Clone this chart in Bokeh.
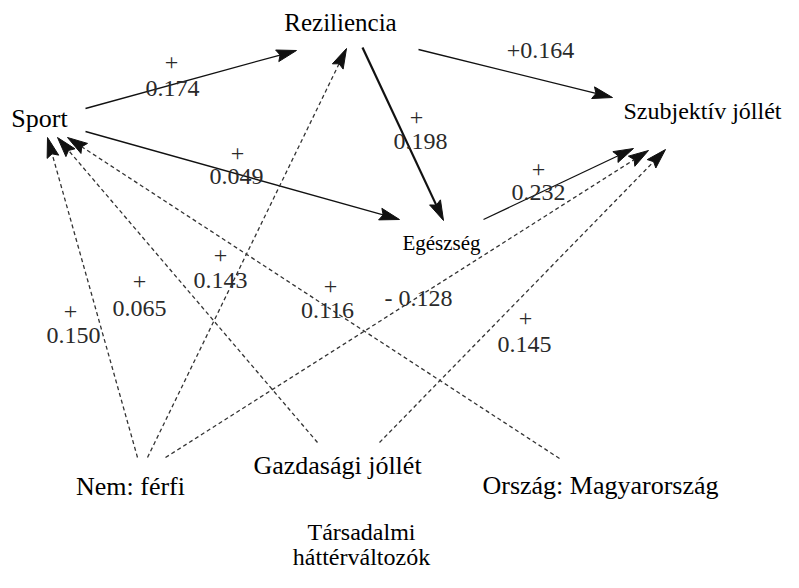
import math
from bokeh.plotting import figure
from bokeh.models import Range1d
from bokeh.core.properties import value
from bokeh.embed import file_html
from bokeh.resources import INLINE

# ---------------- data ----------------
node_names = ["Sport", "Reziliencia", "Egészség", "Szubjektív jóllét",
              "Nem: férfi", "Gazdasági jóllét", "Ország: Magyarország"]
edge_source = ["Sport", "Sport", "Reziliencia", "Reziliencia", "Egészség",
               "Nem: férfi", "Nem: férfi", "Nem: férfi",
               "Gazdasági jóllét", "Gazdasági jóllét", "Ország: Magyarország"]
edge_target = ["Reziliencia", "Egészség", "Egészség", "Szubjektív jóllét", "Szubjektív jóllét",
               "Sport", "Reziliencia", "Szubjektív jóllét",
               "Sport", "Szubjektív jóllét", "Sport"]
edge_coef = [0.174, 0.049, 0.198, 0.164, 0.232,
             0.150, 0.143, -0.128,
             0.065, 0.145, 0.116]
edge_kind = ["main", "main", "main", "main", "main",
             "control", "control", "control", "control", "control", "control"]
group_title = ["Társadalmi", "háttérváltozók"]

# ---------------- layout (pixel coordinates) ----------------
node_pos = {
    "Sport": (39, 118),
    "Reziliencia": (340, 22),
    "Egészség": (441, 242),
    "Szubjektív jóllét": (702, 110),
    "Nem: férfi": (130, 486),
    "Gazdasági jóllét": (337, 465),
    "Ország: Magyarország": (600, 485),
}
node_size = {
    "Sport": "26px", "Reziliencia": "25px", "Egészség": "21px",
    "Szubjektív jóllét": "24px", "Nem: férfi": "26px",
    "Gazdasági jóllét": "26px", "Ország: Magyarország": "26px",
}
edge_start = [(85, 108), (85, 131), (362, 47), (418, 49), (483, 219),
              (137, 457), (147, 457), (165, 457),
              (317, 442), (379, 442), (559, 458)]
edge_end = [(296, 50), (399, 219), (443, 220), (612, 97), (633, 148),
            (47, 137), (346, 48), (648, 150),
            (57, 137), (665, 149), (67, 137)]
edge_width = [1.3, 1.3, 2.2, 1.3, 1.3, 1.3, 1.3, 1.3, 1.3, 1.3, 1.3]
label_inline = [False, False, False, True, False, False, False, True, False, False, False]
label_sign_xy = [(171, 62), (237, 153), (416, 117), (540, 50), (538, 169),
                 (70, 311), (220, 255), (418, 297), (139, 281), (525, 318), (330, 286)]
label_num_xy = [(172, 88), (236, 176), (420, 141), None, (538, 192),
                (73, 335), (220, 280), None, (139, 308), (524, 344), (327, 310)]
group_xy = [(361, 531), (361, 556)]

W, H = 783, 572
p = figure(width=W, height=H, output_backend="svg", toolbar_location=None,
           x_range=Range1d(0, W), y_range=Range1d(H, 0),
           min_border=0, border_fill_color="white", background_fill_color="white")
p.axis.visible = False
p.xgrid.visible = False
p.ygrid.visible = False
p.outline_line_color = None

HEAD_L, HEAD_W, NOTCH = 20, 6.0, 3.0

for i in range(len(edge_source)):
    (x0, y0), (x1, y1) = edge_start[i], edge_end[i]
    dx, dy = x1 - x0, y1 - y0
    L = math.hypot(dx, dy)
    ux, uy = dx / L, dy / L
    nx, ny = -uy, ux
    bx, by = x1 - ux * HEAD_L, y1 - uy * HEAD_L
    dash = "solid" if edge_kind[i] == "main" else "4 3"
    col = "#111111" if edge_kind[i] == "main" else "#333333"
    p.line([x0, bx + ux * NOTCH], [y0, by + uy * NOTCH], line_color=col,
           line_width=edge_width[i], line_dash=dash)
    hx = [x1, bx + nx * HEAD_W, bx + ux * NOTCH, bx - nx * HEAD_W]
    hy = [y1, by + ny * HEAD_W, by + uy * NOTCH, by - ny * HEAD_W]
    p.patch(hx, hy, fill_color="#111111", line_color="#111111", line_width=1)

# edge labels
sx, sy, st = [], [], []
for i, c in enumerate(edge_coef):
    sign = "+" if c >= 0 else "-"
    num = f"{abs(c):.3f}"
    if label_inline[i]:
        sx.append(label_sign_xy[i][0]); sy.append(label_sign_xy[i][1])
        st.append(sign + num if c >= 0 else sign + " " + num)
    else:
        sx.append(label_sign_xy[i][0]); sy.append(label_sign_xy[i][1]); st.append(sign)
        sx.append(label_num_xy[i][0]); sy.append(label_num_xy[i][1]); st.append(num)
p.text(x=sx, y=sy, text=st, text_font=value("Liberation Serif"), text_font_size="24px",
       text_color="#2a2a2a", text_align="center", text_baseline="middle")

# node labels
for n in node_names:
    x, y = node_pos[n]
    p.text(x=[x], y=[y], text=[n], text_font=value("Liberation Serif"),
           text_font_size=node_size[n], text_color="black",
           text_align="center", text_baseline="middle")

p.text(x=[g[0] for g in group_xy], y=[g[1] for g in group_xy], text=group_title,
       text_font=value("Liberation Serif"), text_font_size="24px", text_color="black",
       text_align="center", text_baseline="middle")

open("out.html", "w").write(file_html(p, INLINE))
